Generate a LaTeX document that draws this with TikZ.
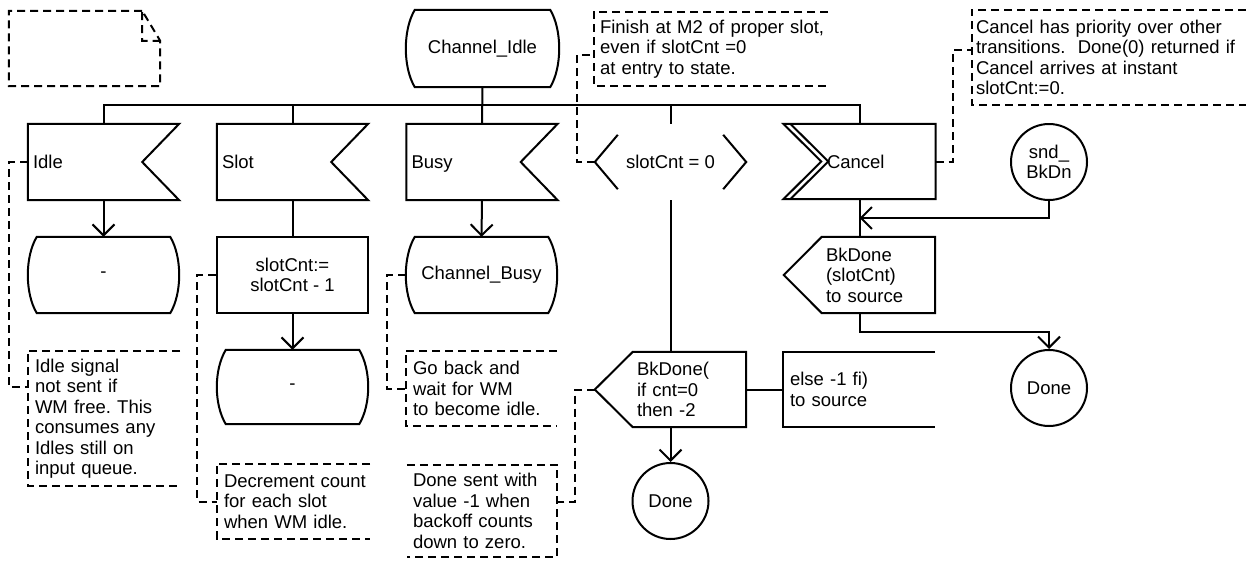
\documentclass[tikz,border=0pt]{standalone}
\usepackage{fontspec}
\setmainfont{Liberation Sans}
\usetikzlibrary{arrows.meta,calc}
\frenchspacing
\tikzset{
  sline/.style={line width=2pt, line join=miter},
  dline/.style={line width=2pt, dash pattern=on 8pt off 5pt},
  arr/.style={sline,-{Straight Barb[length=11pt,width=22pt]}},
  box/.style={inner sep=0pt, draw=none, font=\fontsize{18.5}{20.5}\selectfont\frenchspacing},
  st/.style={box, minimum width=151pt, minimum height=76pt, align=center},
  inp/.style={box, minimum width=151pt, minimum height=76pt, text width=141pt, align=left},
  inp1/.style={inp, text height=13.5pt, text depth=0pt},
  conn/.style={box, circle, draw, sline, minimum size=76pt, align=center},
  cmt/.style={box, align=left}
}
\newcommand\tl[1]{\mbox{#1}}
\newcommand\shpstate[1]{\draw[sline] ([xshift=9pt]#1.north west) -- ([xshift=-9pt]#1.north east)
  .. controls ([xshift=3pt,yshift=-20pt]#1.north east) and ([xshift=3pt,yshift=20pt]#1.south east) .. ([xshift=-9pt]#1.south east)
  -- ([xshift=9pt]#1.south west)
  .. controls ([xshift=-3pt,yshift=20pt]#1.south west) and ([xshift=-3pt,yshift=-20pt]#1.north west) .. cycle;}
\newcommand\shpinput[1]{\draw[sline] (#1.north west) -- (#1.north east) -- ([xshift=-37pt]#1.east) -- (#1.south east) -- (#1.south west) -- cycle;}
\newcommand\shpoutput[1]{\draw[sline] ([xshift=38pt]#1.north west) -- (#1.north east) -- (#1.south east) -- ([xshift=38pt]#1.south west) -- (#1.west) -- cycle;}
\newcommand\cmtleft[1]{\draw[dline] (#1.north east) -- (#1.north west) -- (#1.south west) -- (#1.south east);}
\newcommand\cmtright[1]{\draw[dline] (#1.north west) -- (#1.north east) -- (#1.south east) -- (#1.south west);}
\begin{document}
\begin{tikzpicture}[x=1pt,y=-1pt]
\useasboundingbox (0,0) rectangle (1246,565);
% nodes
\node[box,minimum width=151pt,minimum height=75pt] (txt) at (84.5,48.5) {};
\node[st,minimum width=153pt,minimum height=77pt] (ci) at (482.5,48.5) {Channel\_Idle};
\node[inp1] (idle) at (103.5,162) {Idle};
\node[inp1] (slot) at (292.5,162) {Slot};
\node[inp1] (busy) at (482,162) {Busy};
\node[st,text height=13.5pt,text depth=0pt] (cont) at (670.5,162) {slotCnt = 0};
\node[inp1,minimum width=152pt,minimum height=75pt] (cancel) at (859.5,161.5) {\hspace*{38pt}Cancel};
\node[conn] (sbd) at (1049,162) {snd\_\\BkDn};
\node[st] (dash1) at (103.5,275) {-};
\node[st,draw,sline] (task) at (292.5,275) {slotCnt:=\\slotCnt - 1};
\node[st] (cb) at (481.5,275) {Channel\_Busy};
\node[inp] (bkd) at (859.5,275) {\hspace*{37pt}BkDone\\\hspace*{37pt}(slotCnt)\\\hspace*{37pt}to source};
\node[st,minimum height=74pt] (dash2) at (292.5,387) {-};
\node[inp,minimum height=75pt] (bkd2) at (670.5,389.5) {\hspace*{37pt}BkDone(\\\hspace*{37pt}if cnt=0\\\hspace*{37pt}then -2};
\node[box,minimum width=152pt,minimum height=75pt,text width=138pt,align=left] (ext) at (859,389.5) {else -1 fi)\\to source};
\node[conn] (done2) at (1049,388) {Done};
\node[conn] (done1) at (670.5,501) {Done};
% comments
\node[cmt,minimum width=152pt,minimum height=135pt,text width=138pt] (c1) at (104,418.5) {Idle signal\\not sent if\\WM free. This\\consumes any\\Idles still on\\input queue.};
\node[cmt,minimum width=153pt,minimum height=75pt,text width=139pt] (c2) at (293.5,501.5) {\tl{Decrement count}\\\tl{for each slot}\\\tl{when WM idle.}};
\node[cmt,minimum width=151pt,minimum height=75pt,text width=137pt] (c3) at (481.5,388.5) {Go back and\\wait for WM\\to become idle.};
\node[cmt,minimum width=150pt,minimum height=92pt,text width=138pt] (c4) at (482,511) {Done sent with\\value -1 when\\backoff counts\\down to zero.};
\node[cmt,minimum width=234pt,minimum height=74pt,text width=222pt] (c5) at (711,49) {\tl{Finish at M2 of proper slot,}\\\tl{even if slotCnt =0}\\\tl{at entry to state.}};
\node[cmt,minimum width=274pt,minimum height=95pt,text width=266pt] (c6) at (1109,57.5) {\tl{Cancel has priority over other}\\\tl{transitions.\ \ Done(0) returned if}\\\tl{Cancel arrives at instant}\\\tl{slotCnt:=0.}};
% shapes
\draw[dline] ([xshift=-18pt]txt.north east) -- (txt.north west) -- (txt.south west) -- (txt.south east) -- ([yshift=-30pt]txt.north east) -- ([xshift=-18pt]txt.north east) -- ([xshift=-18pt,yshift=-30pt]txt.north east) -- ([yshift=-30pt]txt.north east);
\shpstate{ci}
\shpinput{idle}
\shpinput{slot}
\shpinput{busy}
\draw[sline] ([xshift=23pt,yshift=-11pt]cont.north west) -- (cont.west) -- ([xshift=23pt,yshift=11pt]cont.south west);
\draw[sline] ([xshift=-23pt,yshift=-11pt]cont.north east) -- (cont.east) -- ([xshift=-23pt,yshift=11pt]cont.south east);
\draw[sline] (cancel.north west) -- (cancel.north east) -- (cancel.south east) -- (cancel.south west) -- ([xshift=38pt]cancel.west) -- cycle;
\draw[sline] ([xshift=7pt]cancel.north west) -- ([xshift=45pt]cancel.west) -- ([xshift=7pt]cancel.south west);
\shpstate{dash1}
\shpstate{cb}
\shpstate{dash2}
\shpoutput{bkd}
\shpoutput{bkd2}
\draw[sline] (ext.north east) -- (ext.north west) -- (ext.south west) -- (ext.south east);
\cmtleft{c1}
\cmtleft{c2}
\cmtleft{c3}
\cmtright{c4}
\cmtleft{c5}
\cmtleft{c6}
% bus and connectors
\coordinate (bus) at (0,105);
\draw[sline] (idle.north) |- (bus -| cancel.north) -- (cancel.north);
\draw[sline] (ci.south) -- (busy.north);
\draw[sline] (slot.north) -- (slot.north |- bus);
\draw[sline] (cont.north) -- (cont.north |- bus);
\draw[arr] (idle.south) -- (dash1.north);
\draw[sline] (slot.south) -- (task.north);
\draw[arr] (task.south) -- (dash2.north);
\draw[arr] (busy.south) -- (cb.north);
\draw[sline] (cont.south) -- (bkd2.north);
\draw[sline] (bkd2.east) -- (ext.west);
\draw[arr] (bkd2.south) -- (done1.north);
\draw[sline] (cancel.south) -- (bkd.north);
\coordinate (j) at ($(cancel.south)!0.5!(bkd.north)$);
\draw[arr] (sbd.south) |- (j);
\draw[arr] (bkd.south) -- ++(0,19) -| (done2.north);
% comment connectors
\draw[dline] (idle.west) -- ++(-19,0) |- ([yshift=31.5pt]c1.west);
\draw[dline] (task.west) -- ++(-19,0) |- (c2.west);
\draw[dline] (cb.west) -- ++(-19,0) |- (c3.west);
\draw[dline] (bkd2.west) -- ++(-20,0) |- ([yshift=9pt]c4.east);
\draw[dline] (cont.west) -- ++(-18,0) |- ([yshift=-6pt]c5.west);
\draw[dline] (cancel.east) -- ++(17,0) |- ([yshift=7.5pt]c6.west);
\end{tikzpicture}
\end{document}
